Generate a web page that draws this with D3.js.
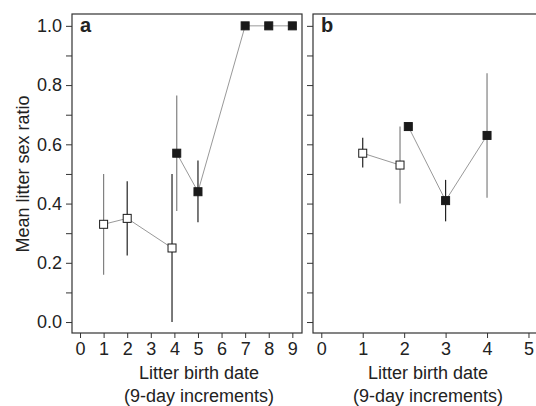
<!DOCTYPE html>
<html>
<head>
<meta charset="utf-8">
<script src="https://cdn.jsdelivr.net/npm/d3@7"></script>
<style>
  body { margin: 0; background: #fff; }
  svg text { font-family: "Liberation Sans", Arial, sans-serif; fill: #222; }
</style>
</head>
<body>
<svg id="chart" width="536" height="406"></svg>
<script>
// panel a: open = first group, filled = second group
var aOpenX = [1, 2, 3.9]
var aOpenY = [0.33, 0.35, 0.25]
var aOpenLo = [0.16, 0.225, 0.0]
var aOpenHi = [0.50, 0.475, 0.50]
var aFillX = [4.1, 5, 7, 8, 9]
var aFillY = [0.57, 0.44, 1.0, 1.0, 1.0]
var aFillLo = [0.375, 0.337, null, null, null]
var aFillHi = [0.765, 0.545, null, null, null]

// panel b
var bOpenX = [1, 1.9]
var bOpenY = [0.57, 0.53]
var bOpenLo = [0.522, 0.40]
var bOpenHi = [0.622, 0.66]
var bFillX = [2.1, 3, 4]
var bFillY = [0.66, 0.41, 0.63]
var bFillLo = [null, 0.34, 0.42]
var bFillHi = [null, 0.48, 0.84]

var yTicks = [0, 0.1, 0.2, 0.3, 0.4, 0.5, 0.6, 0.7, 0.8, 0.9, 1.0]
var aXTicks = [0, 1, 2, 3, 4, 5, 6, 7, 8, 9]
var bXTicks = [0, 1, 2, 3, 4, 5]

var svg = d3.select("#chart")
var plotTop = 14, plotBottom = 333

var y = d3.scaleLinear().domain([-0.037, 1.04]).range([plotBottom, plotTop])

function toPts(xs, ys, lo, hi) {
  return xs.map(function(d, i) { return {x: d, y: ys[i], lo: lo[i], hi: hi[i]} })
}

function drawPanel(opt) {
  var x = d3.scaleLinear().domain(opt.xdom).range([opt.left, opt.right])
  var g = svg.append("g")

  // frame
  g.append("rect")
    .attr("x", opt.left).attr("y", plotTop)
    .attr("width", opt.right - opt.left).attr("height", plotBottom - plotTop)
    .attr("fill", "none").attr("stroke", "#333").attr("stroke-width", 1.2)

  // y axis
  var ya = g.append("g")
    .attr("transform", "translate(" + opt.left + ",0)")
    .call(d3.axisLeft(y).tickValues(yTicks).tickSize(6).tickPadding(4)
      .tickFormat(function(d, i) { return opt.yLabels && i % 2 == 0 ? d3.format(".1f")(d) : "" }))
  ya.select(".domain").remove()
  ya.selectAll("line").attr("stroke", "#333")
  ya.selectAll("text").style("font-size", "18px").attr("fill", "#222")

  // x axis
  var xa = g.append("g")
    .attr("transform", "translate(0," + plotBottom + ")")
    .call(d3.axisBottom(x).tickValues(opt.xticks).tickSize(5).tickPadding(4).tickFormat(d3.format("d")))
  xa.select(".domain").remove()
  xa.selectAll("line").attr("stroke", "#333")
  xa.selectAll("text").style("font-size", "18px").attr("fill", "#222")

  // x title
  g.append("text").attr("x", opt.titleX).attr("y", 379)
    .attr("text-anchor", "middle").style("font-size", "18px").text("Litter birth date")
  g.append("text").attr("x", opt.titleX).attr("y", 402)
    .attr("text-anchor", "middle").style("font-size", "18px").text("(9-day increments)")

  // panel letter
  g.append("text").attr("x", opt.left + 8).attr("y", 32)
    .style("font-size", "20px").style("font-weight", "bold").text(opt.letter)

  var line = d3.line().x(function(d) { return x(d.x) }).y(function(d) { return y(d.y) })

  opt.groups.forEach(function(grp, gi) {
    g.append("path").datum(grp.pts)
      .attr("d", line).attr("fill", "none").attr("stroke", "#999").attr("stroke-width", 1)

    // some whiskers print lighter in the original
    g.selectAll(null).data(grp.pts.filter(function(d) { return d.lo != null }))
      .enter().append("line")
      .attr("x1", function(d) { return x(d.x) }).attr("x2", function(d) { return x(d.x) })
      .attr("y1", function(d) { return y(d.lo) }).attr("y2", function(d) { return y(d.hi) })
      .attr("stroke", function(d, i) { return opt.grayBars[gi].indexOf(i) >= 0 ? "#808080" : "#222" })
      .attr("stroke-width", 1.2)

    g.selectAll(null).data(grp.pts)
      .enter().append("rect")
      .attr("x", function(d) { return x(d.x) - 4 }).attr("y", function(d) { return y(d.y) - 4 })
      .attr("width", 8).attr("height", 8)
      .attr("fill", grp.filled ? "#1a1a1a" : "#fff")
      .attr("stroke", "#1a1a1a").attr("stroke-width", 1)
  })
}

drawPanel({
  left: 72, right: 302, xdom: [-0.34, 9.41], xticks: aXTicks, yLabels: true,
  titleX: 199, letter: "a", grayBars: [[0], [0]],
  groups: [
    {filled: false, pts: toPts(aOpenX, aOpenY, aOpenLo, aOpenHi)},
    {filled: true, pts: toPts(aFillX, aFillY, aFillLo, aFillHi)}
  ]
})

drawPanel({
  left: 313, right: 538, xdom: [-0.2, 5.23], xticks: bXTicks, yLabels: false,
  titleX: 428, letter: "b", grayBars: [[1], [1]],
  groups: [
    {filled: false, pts: toPts(bOpenX, bOpenY, bOpenLo, bOpenHi)},
    {filled: true, pts: toPts(bFillX, bFillY, bFillLo, bFillHi)}
  ]
})

// y title
svg.append("text")
  .attr("transform", "translate(29,174) rotate(-90)")
  .attr("text-anchor", "middle").style("font-size", "18px")
  .text("Mean litter sex ratio")
</script>
</body>
</html>
